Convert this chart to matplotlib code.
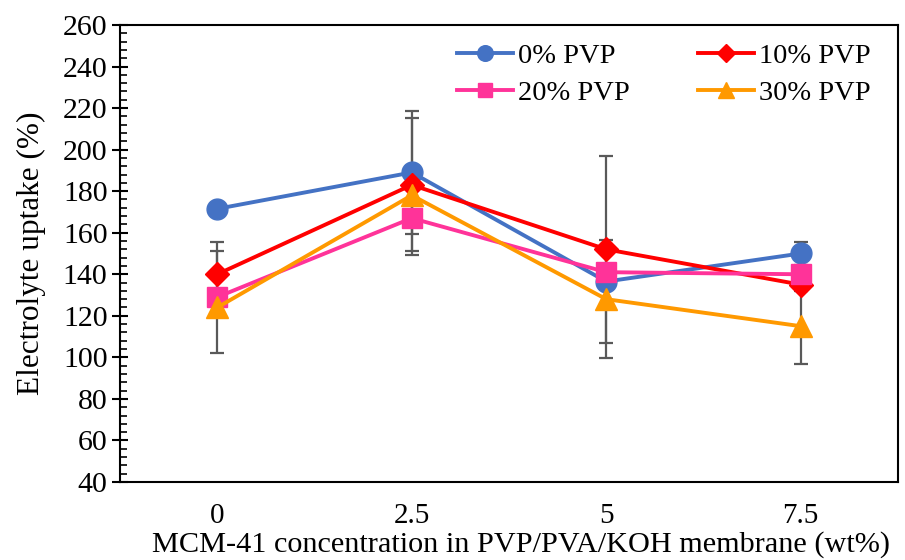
import matplotlib
matplotlib.use("Agg")
import matplotlib.pyplot as plt
from matplotlib.ticker import MultipleLocator

plt.rcParams['font.family'] = ['Liberation Serif', 'DejaVu Serif']

# data
categories = ['0', '2.5', '5', '7.5']
labels = ['0% PVP', '10% PVP', '20% PVP', '30% PVP']
pvp0 = [171.5, 189, 136.5, 150]
pvp10 = [140, 183, 152, 135]
pvp20 = [129, 167, 141, 140]
pvp30 = [124, 178, 128, 115]
err0 = [2, 29.6, 2, 5.4]
err10 = [11.4, 32, 45, 3]
err20 = [26.7, 17.5, 2, 2]
err30 = [2, 3, 28.3, 18.3]

series = [pvp0, pvp10, pvp20, pvp30]
errors = [err0, err10, err20, err30]
colors = ['#4472C4', '#FF0000', '#FF3399', '#FF9900']
markers = ['o', 'D', 's', '^']
msizes = [15, 12, 14, 16]

fig = plt.figure(figsize=(9.05, 5.6), dpi=100)
ax = fig.add_axes([0.1326, 0.1393, 0.8597, 0.8161])

x = list(range(len(categories)))

# error bars first, so they sit behind the lines and markers
for vals, err in zip(series, errors):
    ax.errorbar(x, vals, yerr=err, fmt='none', ecolor='#595959',
                elinewidth=1.6, capsize=5, capthick=1.6, zorder=1)

handles = []
for vals, lab, c, m, ms in zip(series, labels, colors, markers, msizes):
    h, = ax.plot(x, vals, color=c, marker=m, markersize=ms, linewidth=2.8,
                 label=lab, zorder=3)
    handles.append(h)

ax.set_xlim(-0.5, 3.5)
ax.set_ylim(40, 260)
ax.set_xticks(x)
ax.set_xticklabels(categories)
ax.yaxis.set_major_locator(MultipleLocator(20))
ax.yaxis.set_minor_locator(MultipleLocator(4))

ax.tick_params(axis='x', length=0, pad=15, labelsize=21)
ax.tick_params(axis='y', which='major', direction='inout', length=12,
               width=1.5, pad=3, labelsize=21.5)
ax.tick_params(axis='y', which='minor', direction='in', length=5, width=1.2)

for sp in ax.spines.values():
    sp.set_linewidth(1.5)
    sp.set_color('black')

ax.set_xlabel('MCM-41 concentration in PVP/PVA/KOH membrane (wt%)',
              fontsize=21.8, labelpad=3)
ax.xaxis.set_label_coords(0.515, -0.108)
ax.set_ylabel('Electrolyte uptake (%)', fontsize=22.5, labelpad=12)

# legend fills row by row: 0%, 10% on top, 20%, 30% below
order = [0, 2, 1, 3]
ax.legend([handles[i] for i in order], [labels[i] for i in order],
          ncol=2, loc='upper right', bbox_to_anchor=(0.99, 1.005),
          frameon=False, fontsize=20.5, handlelength=1.95, handletextpad=0.18,
          columnspacing=2.4, labelspacing=0.4, markerscale=0.75,
          borderaxespad=0.3)

fig.savefig('out.png', dpi=100)
